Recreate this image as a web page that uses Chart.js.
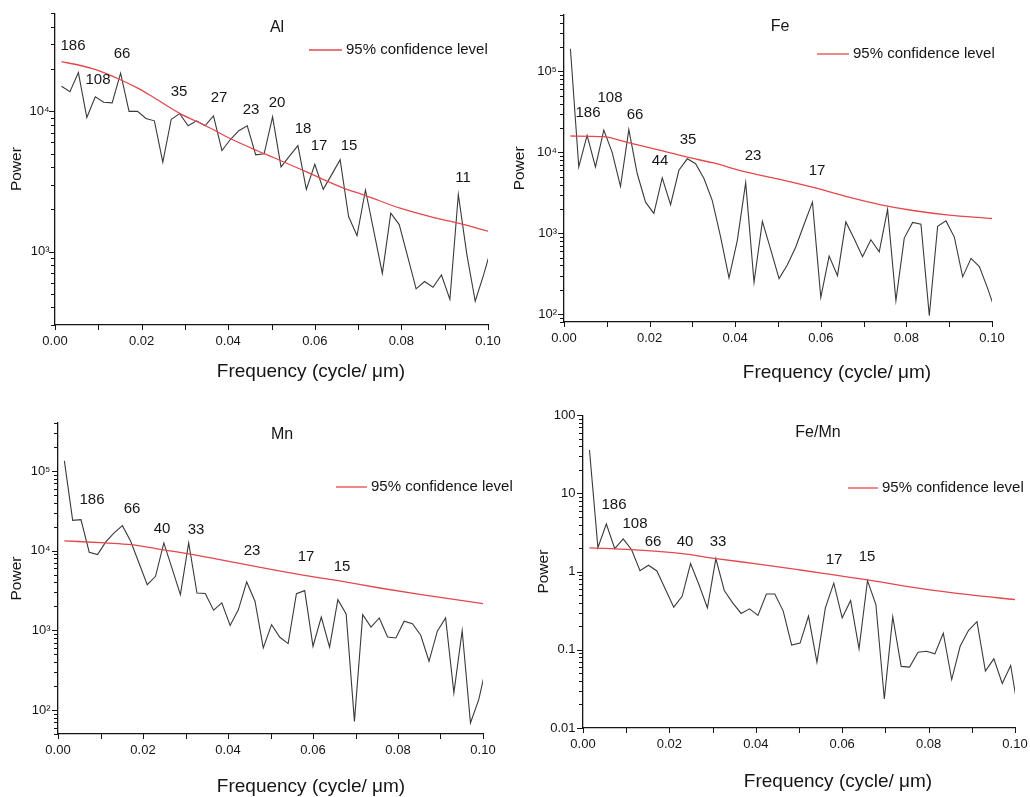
<!DOCTYPE html>
<html>
<head>
<meta charset="utf-8">
<title>Power spectra</title>
<script src="https://cdn.jsdelivr.net/npm/chart.js@4/dist/chart.umd.min.js"></script>
<style>
  html, body { margin: 0; padding: 0; background: #fff; }
  #figure { position: relative; width: 1030px; height: 797px; overflow: hidden; background: #fff; }
  #figure canvas { position: absolute; }
</style>
</head>
<body>
<div id="figure">
  <canvas id="alChart" width="515" height="400" style="left:0;top:0"></canvas>
  <canvas id="feChart" width="530" height="400" style="left:500px;top:0"></canvas>
  <canvas id="mnChart" width="515" height="397" style="left:0;top:400px"></canvas>
  <canvas id="feMnChart" width="560" height="397" style="left:515px;top:400px"></canvas>
</div>
<script>
// Periodogram frequencies (cycle/µm), shared by the four spectra
const freq = [
  0.0015, 0.00345, 0.0054, 0.00735, 0.0093, 0.01125, 0.0132, 0.01515, 0.0171, 0.01905,
  0.021, 0.02295, 0.0249, 0.02685, 0.0288, 0.03075, 0.0327, 0.03465, 0.0366, 0.03855,
  0.0405, 0.04245, 0.0444, 0.04635, 0.0483, 0.05025, 0.0522, 0.05415, 0.0561, 0.05805,
  0.06, 0.06195, 0.0639, 0.06585, 0.0678, 0.06975, 0.0717, 0.07365, 0.0756, 0.07755,
  0.0795, 0.08145, 0.0834, 0.08535, 0.0873, 0.08925, 0.0912, 0.09315, 0.0951, 0.09705,
  0.099, 0.10095
];
const freqTicks = [0, 0.01, 0.02, 0.03, 0.04, 0.05, 0.06, 0.07, 0.08, 0.09, 0.1];

// Spectral power
const alPower = [
  15100, 13800, 18900, 9030, 12700, 11600, 11500, 18700, 10000, 10000,
  8900, 8560, 4340, 8790, 9630, 7890, 8560, 7890, 9280, 5260,
  6300, 7280, 7890, 4900, 4980, 9140, 4020, 4800, 5700, 2780,
  4200, 2780, 3540, 4520, 1780, 1300, 2750, 1390, 700, 1880,
  1560, 920, 543, 612, 558, 682, 457, 2560, 960, 443,
  685, 1110
];
const fePower = [
  190000, 6590, 16200, 6590, 18800, 10000, 3780, 19100, 5470, 2420,
  1760, 4850, 2260, 6000, 8300, 7220, 4750, 2530, 896, 280,
  817, 4220, 248, 1400, 628, 275, 407, 677, 1290, 2420,
  161, 522, 299, 1380, 853, 513, 830, 589, 1970, 147,
  871, 1360, 1290, 96, 1220, 1420, 896, 289, 489, 388,
  207, 103
];
const mnPower = [
  134000, 24000, 24500, 9550, 8920, 12900, 16700, 20600, 13100, 7010,
  3740, 4770, 12500, 5940, 2800, 12500, 2940, 2900, 1790, 2210,
  1150, 1820, 4050, 2320, 601, 1180, 818, 681, 2880, 3150,
  631, 1470, 614, 2430, 1610, 72, 1570, 1100, 1430, 826,
  802, 1300, 1210, 867, 409, 975, 1430, 164, 990, 69,
  135, 390
];
const feMnPower = [
  36, 2.03, 4.07, 1.97, 2.63, 1.91, 1.03, 1.21, 1.02, 0.598,
  0.351, 0.483, 1.27, 0.679, 0.344, 1.47, 0.575, 0.398, 0.292, 0.334,
  0.275, 0.517, 0.517, 0.313, 0.115, 0.122, 0.27, 0.0696, 0.344, 0.712,
  0.257, 0.427, 0.103, 0.77, 0.38, 0.0235, 0.265, 0.0614, 0.0602, 0.093,
  0.096, 0.0887, 0.163, 0.0417, 0.111, 0.178, 0.229, 0.0535, 0.0767, 0.0371,
  0.063, 0.014
];

// 95% confidence level
const alConfFreq = [0.0015, 0.0054, 0.0094, 0.0151, 0.019, 0.0229, 0.0289, 0.0348, 0.0407, 0.0466, 0.0506, 0.0581, 0.0659, 0.0719, 0.0797, 0.0875, 0.0934, 0.1];
const alConf = [22600, 21400, 19800, 16800, 14700, 12500, 9630, 7900, 6350, 5260, 4670, 3700, 2900, 2500, 2040, 1750, 1590, 1400];
const feConfFreq = [0.0015, 0.0091, 0.015, 0.0228, 0.0288, 0.0347, 0.0424, 0.0502, 0.058, 0.0658, 0.0738, 0.0815, 0.0894, 0.1];
const feConf = [15900, 15600, 13200, 10500, 8700, 7430, 5730, 4660, 3700, 2860, 2260, 1910, 1690, 1520];
const mnConfFreq = [0.0015, 0.0111, 0.0172, 0.0249, 0.0308, 0.0405, 0.0504, 0.058, 0.0659, 0.0757, 0.0855, 0.1];
const mnConf = [13300, 12500, 11900, 10200, 9100, 7300, 5780, 4900, 4200, 3400, 2800, 2160];
const feMnConfFreq = [0.0015, 0.0112, 0.023, 0.0308, 0.0406, 0.0503, 0.0581, 0.0659, 0.0776, 0.0893, 0.1];
const feMnConf = [2.01, 1.91, 1.70, 1.47, 1.25, 1.05, 0.908, 0.785, 0.616, 0.507, 0.439];

// Periods (µm) written over the main peaks
const alPeaks = ['186', '108', '66', '35', '27', '23', '20', '18', '17', '15', '11'];
const fePeaks = ['186', '108', '66', '44', '35', '23', '17'];
const mnPeaks = ['186', '66', '40', '33', '23', '17', '15'];
const feMnPeaks = ['186', '108', '66', '40', '33', '17', '15'];

const FONT = '"Liberation Sans", Arial, Helvetica, sans-serif';
const INK = '#151515';
const LINE = '#3a3a3a';
const RED = '#e4474c';

Chart.defaults.font.family = FONT;
Chart.defaults.color = INK;

const panels = [
  {
    canvas: 'alChart', padTop: 9, padRight: 27, yWidth: 55, xHeight: 75,
    yMin: 300, yMax: 50000, yLabelPad: 5.5, yTitlePad: 7, sci: true,
    power: alPower, confFreq: alConfFreq, conf: alConf,
    title: 'Al', titleAt: [277, 28],
    peaks: alPeaks,
    peakAt: [[73, 46], [98, 80], [122, 54], [179, 92], [219, 98], [251, 110], [277, 103], [303, 129], [319, 146], [349, 146], [463, 178]],
    legendAt: [309, 342, 50], xTitleAt: [311, 372]
  },
  {
    canvas: 'feChart', padTop: 8, padRight: 38, yWidth: 64, xHeight: 78,
    yMin: 80, yMax: 500000, yLabelPad: 7, yTitlePad: 10.5, sci: true,
    power: fePower, confFreq: feConfFreq, conf: feConf,
    title: 'Fe', titleAt: [280, 27],
    peaks: fePeaks,
    peakAt: [[88, 113], [110, 98], [135, 115], [160, 161], [188, 140], [253, 156], [317, 171]],
    legendAt: [317, 349, 54], xTitleAt: [337, 373]
  },
  {
    canvas: 'mnChart', padTop: 23, padRight: 32, yWidth: 58, xHeight: 63,
    yMin: 50, yMax: 400000, yLabelPad: 7.5, yTitlePad: 7, sci: true,
    power: mnPower, confFreq: mnConfFreq, conf: mnConf,
    title: 'Mn', titleAt: [282, 35],
    peaks: mnPeaks,
    peakAt: [[92, 100], [132, 109], [162, 129], [196, 130], [252, 151], [306, 157], [342, 167]],
    legendAt: [336, 367, 87], xTitleAt: [311, 387]
  },
  {
    canvas: 'feMnChart', padTop: 12, padRight: 60, yWidth: 68, xHeight: 69,
    yMin: 0.01, yMax: 100, yLabelPad: 7.5, yTitlePad: 19, sci: false,
    power: feMnPower, confFreq: feMnConfFreq, conf: feMnConf,
    title: 'Fe/Mn', titleAt: [303, 33],
    peaks: feMnPeaks,
    peakAt: [[99, 105], [120, 124], [138, 142], [170, 142], [203, 142], [319, 160], [352, 157]],
    legendAt: [333, 363, 88], xTitleAt: [323, 382]
  }
];

const SUP = { '0': '\u2070', '1': '\u00b9', '2': '\u00b2', '3': '\u00b3', '4': '\u2074', '5': '\u2075', '6': '\u2076', '7': '\u2077', '8': '\u2078', '9': '\u2079', '-': '\u207b' };

function powerLabel(value, sci) {
  const exp = Math.round(Math.log10(value));
  if (!sci) return String(+value.toPrecision(1));
  return '10' + String(exp).split('').map(c => SUP[c]).join('');
}

// 1..9 x 10^n ticks inside the axis range, decades flagged as major
function logTicks(min, max) {
  const out = [];
  for (let e = Math.floor(Math.log10(min)) - 1; e <= Math.ceil(Math.log10(max)); e++) {
    for (let m = 1; m <= 9; m++) {
      const v = +(m * Math.pow(10, e)).toPrecision(6);
      if (v >= min * 0.999 && v <= max * 1.001) out.push({ value: v, major: m === 1 });
    }
  }
  return out;
}

function decorations(p) {
  return {
    id: 'decor',
    afterDraw(chart) {
      const ctx = chart.ctx;
      const xs = chart.scales.x;
      const ys = chart.scales.y;
      ctx.save();

      // tick marks, outside the axes
      ctx.strokeStyle = INK;
      ctx.lineWidth = 1;
      ctx.beginPath();
      ys.ticks.forEach(t => {
        const y = Math.round(ys.getPixelForValue(t.value)) + 0.5;
        ctx.moveTo(ys.right - (t.major ? 6 : 4), y);
        ctx.lineTo(ys.right, y);
      });
      xs.ticks.forEach(t => {
        const x = Math.round(xs.getPixelForValue(t.value)) + 0.5;
        ctx.moveTo(x, xs.top);
        ctx.lineTo(x, xs.top + 5);
      });
      ctx.stroke();

      ctx.fillStyle = INK;
      ctx.textBaseline = 'middle';
      ctx.textAlign = 'center';

      ctx.font = '16px ' + FONT;
      ctx.fillText(p.title, p.titleAt[0], p.titleAt[1]);

      ctx.font = '15px ' + FONT;
      p.peaks.forEach((txt, i) => ctx.fillText(txt, p.peakAt[i][0], p.peakAt[i][1]));

      ctx.font = '19px ' + FONT;
      ctx.fillText('Frequency (cycle/ \u03bcm)', p.xTitleAt[0], p.xTitleAt[1]);

      // legend
      const [x1, x2, ly] = p.legendAt;
      ctx.strokeStyle = RED;
      ctx.lineWidth = 1.3;
      ctx.beginPath();
      ctx.moveTo(x1, ly);
      ctx.lineTo(x2, ly);
      ctx.stroke();
      ctx.textAlign = 'left';
      ctx.font = '15px ' + FONT;
      ctx.fillText('95% confidence level', x2 + 4, ly);

      ctx.restore();
    }
  };
}

panels.forEach(p => {
  new Chart(document.getElementById(p.canvas), {
    type: 'line',
    data: {
      datasets: [
        {
          label: '95% confidence level',
          data: p.confFreq.map((f, i) => ({ x: f, y: p.conf[i] })),
          borderColor: RED,
          borderWidth: 1.3,
          pointRadius: 0,
          cubicInterpolationMode: 'monotone',
          fill: false
        },
        {
          label: 'Power',
          data: freq.map((f, i) => ({ x: f, y: p.power[i] })),
          borderColor: LINE,
          borderWidth: 1.1,
          pointRadius: 0,
          tension: 0,
          fill: false
        }
      ]
    },
    plugins: [decorations(p)],
    options: {
      responsive: false,
      animation: false,
      events: [],
      layout: { padding: { top: p.padTop, right: p.padRight, left: 0, bottom: 0 } },
      plugins: { legend: { display: false }, tooltip: { enabled: false } },
      scales: {
        x: {
          type: 'linear',
          min: 0,
          max: 0.1,
          afterBuildTicks: s => { s.ticks = freqTicks.map(v => ({ value: v })); },
          afterFit: s => { s.height = p.xHeight; },
          grid: { display: false, drawTicks: false },
          border: { display: true, color: INK, width: 1.3 },
          ticks: {
            autoSkip: false,
            maxRotation: 0,
            padding: 9,
            color: INK,
            font: { size: 13 },
            callback: (v, i) => (i % 2 === 0 ? Number(v).toFixed(2) : '')
          }
        },
        y: {
          type: 'logarithmic',
          min: p.yMin,
          max: p.yMax,
          afterBuildTicks: s => { s.ticks = logTicks(p.yMin, p.yMax); },
          afterFit: s => { s.width = p.yWidth; },
          grid: { display: false, drawTicks: false },
          border: { display: true, color: INK, width: 1.3 },
          ticks: {
            autoSkip: false,
            padding: p.yLabelPad,
            color: INK,
            font: { size: 13 },
            callback: (v, i, ticks) => (ticks[i].major ? powerLabel(v, p.sci) : '')
          },
          title: {
            display: true,
            text: 'Power',
            color: INK,
            font: { size: 15.5 },
            padding: { top: p.yTitlePad, bottom: 0 }
          }
        }
      }
    }
  });
});
</script>
</body>
</html>
